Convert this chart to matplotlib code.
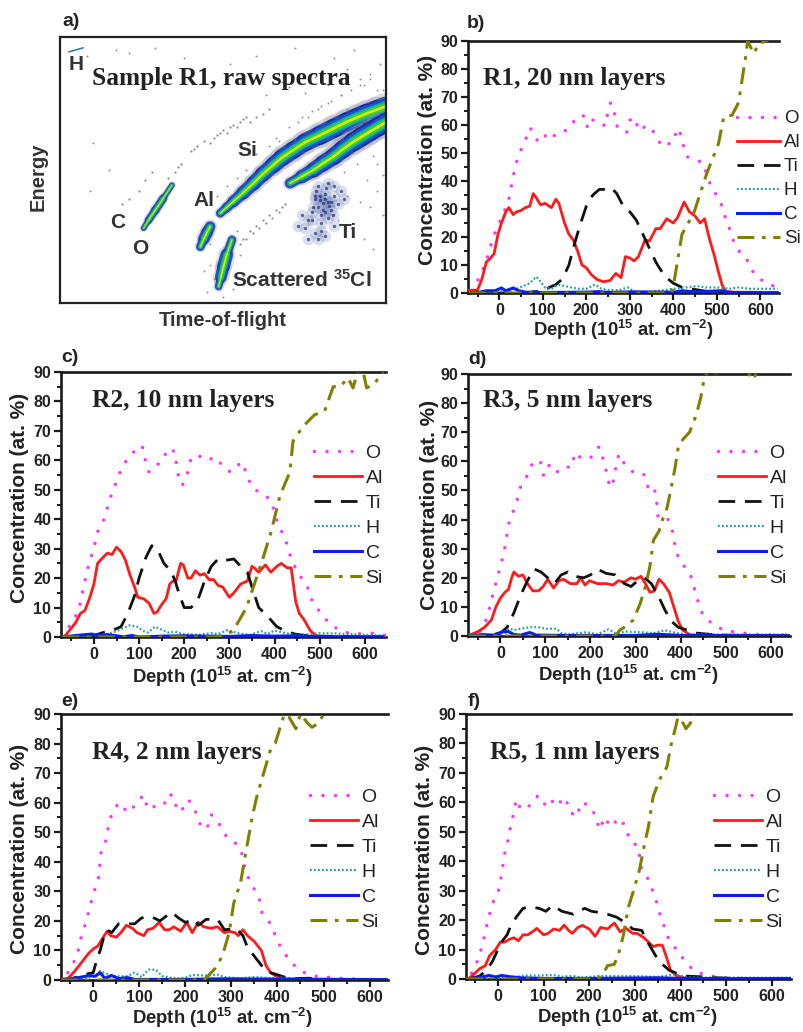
import matplotlib
matplotlib.use("Agg")
import matplotlib.pyplot as plt
from matplotlib.collections import LineCollection
from matplotlib.ticker import MultipleLocator

plt.rcParams['font.family'] = ['Liberation Sans', 'DejaVu Sans']
plt.rcParams['mathtext.fontset'] = 'custom'
plt.rcParams['mathtext.rm'] = 'Liberation Sans:bold'
plt.rcParams['mathtext.bf'] = 'Liberation Sans:bold'
plt.rcParams['mathtext.default'] = 'bf'

W, H = 804, 1032

# ---------- panel b (R1) ----------
B_O_X = [-60,-44,-31,-14,3,21,32,38,48,61,71,87,101,114,132,147,165,178,197,203,213,229,243,249,256,266,272,293,301,312,320,335,347,374,401,408,416,424,431,454,470,477,489,508,516,527,535,550,558,573,585,612,638]
B_O_Y = [0.5,6.5,10.7,20,26,32.7,41.6,46,50.5,55,59,54.6,57,54.6,57,57.4,59.6,63,63.3,58.8,61.8,61.5,59.6,64,68,63.5,58.8,57.4,61.8,62.6,58,59.4,59.6,52.3,54,58.8,57,52.3,48.7,47.5,46.3,42,37.4,33,28.5,24.3,19.6,15.4,13,11.3,7,3.5,2.1]
B_AL_X = [-70,-50,-40,-30,-20,-12,-3,5,15,22,32,40,50,60,70,78,85,95,105,115,120,130,137,150,160,170,180,190,200,212,225,240,255,268,280,290,300,310,320,335,345,360,370,385,400,410,425,437,450,462,472,482,495,503,512,520,540,640]
B_AL_Y = [1,1,5,11,12.5,14,21,25,29,30.5,28,29,29.5,30.5,31,35.5,34,31.5,32,31,30.5,33.5,32,25,21,19,15,10,9,6.5,4.8,4,4.5,7,5.5,13,12.5,11.5,13,19,18.5,23,23,26.5,25,27,32.5,29,27.5,25,26.5,20,13,8,3,0.5,0.3,0.2]
B_TI_X = [-70,60,80,100,115,130,145,160,170,185,200,215,230,245,258,270,285,300,315,330,345,360,380,400,420,440,460,480,500,640]
B_TI_Y = [0,0,0.5,0.5,2,3,5,10,16,24,31,35,37,37,37.5,35.5,31,29,26,21,16,11,6,3.5,2,1.5,1,0.5,0.3,0]
B_H_X = [-70,-20,0,20,40,55,70,85,95,105,120,135,150,165,180,200,220,235,255,275,295,310,350,380,400,430,455,475,500,530,550,575,600,640]
B_H_Y = [0.3,0.3,0.5,1,1.5,2.5,3.5,5.8,4,2,1.5,3,2.5,2,1.5,1.5,3,1.5,1,1,2,0.5,0.5,1,1.5,2,2.5,2,2,1.5,2,1.5,1.5,1.5]
B_C_X = [-70,-45,-30,-10,5,15,32,45,60,100,200,230,250,300,400,420,450,480,510,530,640]
B_C_Y = [0,0.3,0.8,0.8,1.8,0.8,1.8,0.8,0.3,0.2,0.3,0.5,0.2,0.4,0.3,0.8,0.4,0.6,0.8,0.2,0]
B_SI_X = [-70,395,400,420,447,477,504,516,535,550,566,571,585,596,620,640]
B_SI_Y = [0,0,2.4,21,28.5,42.7,53.4,63,63.5,68,84,90,85.5,89,90.5,93]

# ---------- panel c (R2) ----------
C_O_X = [-55,-34,-16,1,9,20,38,48,58,72,89,107,114,122,136,153,163,179,183,188,196,208,214,228,248,271,290,304,327,341,349,367,389,400,408,423,432,441,456,474,485,504,522,548,574,619,644]
C_O_Y = [3.6,8.7,22,31,36,39,48,52,56,60,63,65,60,56,58,60,64,63,58.5,54,51.5,56,60,62,60,61,57,56,59.5,54.5,51,49,47,42.7,38,34,29,25,21,16.6,11.5,8,4.4,2,1,1.3,0.6]
C_AL_X = [-65,-50,-40,-30,-20,-10,0,8,20,30,40,50,60,70,80,90,97,110,122,133,140,150,160,168,175,182,192,198,208,215,225,235,245,255,265,275,285,300,310,325,340,350,355,365,380,392,405,415,428,437,447,455,465,480,495,640]
C_AL_Y = [0.2,3,5,8,9,13,18,25,27,28.5,28,30.5,29,26,21,17,13.5,13,11.5,8,8.5,11,13,18,19,19,25,24.5,20,20,22.5,21,21.5,19.5,19.5,17.5,17,13.5,15,18,19,24,23.5,22,24.5,22,24,25,23.5,23.5,12,8,6,2,0.2,0.2]
C_TI_X = [-70,-20,0,20,45,60,75,90,100,115,128,140,155,170,180,190,200,215,230,245,260,275,290,310,325,340,350,365,385,405,425,445,470,500,640]
C_TI_Y = [0,0.5,0.5,1.5,2.5,3.5,8,14,20,27,31,30,25,22.5,19,14,10,10,12.5,19,24,26.5,26,26.5,24,22,17,10,7,3.5,2,1,0.5,0.3,0]
C_H_X = [-70,0,30,50,65,80,95,110,120,135,150,165,180,195,230,260,275,295,320,345,370,385,400,420,450,500,540,560,640]
C_H_Y = [0,0.5,1,2,3,4,3.5,2,1.5,3.5,2.5,1.5,1.8,1,0.7,1.3,1,2.3,1.3,0.7,2,1,2.2,1.5,0.5,1.3,1.2,1,0.5]
C_C_X = [-70,-40,-20,-5,10,30,50,65,85,100,150,200,300,350,400,450,500,640]
C_C_Y = [0,0.5,0.8,1,0.4,0.8,0.4,0.1,0.5,0,0.3,0.4,0.2,0.5,0.3,0.4,0.1,0]
C_SI_X = [-70,270,285,308,338,375,393,412,434,441,463,489,511,530,545,563,574,585,596,604,622,634,644]
C_SI_Y = [0,0,0.5,2,10,27,36,48,56,66.5,71.5,75.5,76.7,85,85,88,84.6,90.5,90.5,84.6,86,89,91]

# ---------- panel d (R3) ----------
D_O_X = [-72,-46,-30,-16,0,7,13,17,36,44,59,73,89,96,108,124,137,159,165,180,199,219,230,236,243,252,256,263,276,301,319,328,341,347,350,369,380,391,406,422,439,450,469,495,524,561,640]
D_O_Y = [0.3,1.5,6,14.7,24,28,33,38,46,51,55,60,60,55,58.6,56,58,58,63,61,61,65,60,56,51,53.7,57.7,62.5,59,55.4,55.4,51,51.6,46,41,41,37.6,28.4,24.4,21,11.8,7,4.4,2,1.3,0.6,0.3]
D_AL_X = [-70,-50,-35,-20,-10,0,10,18,25,30,40,50,60,72,85,95,105,118,130,140,155,170,178,188,198,215,235,250,262,275,290,300,312,322,332,342,352,362,375,385,395,405,420,440,640]
D_AL_Y = [0.2,1.5,3,5.5,10,13,15,16,20,22,20.5,21,18,15.5,15.5,17,19.5,16.5,19,19.5,18,18,20,17.5,19,18,18,17.5,19,18.5,20,19.5,20.5,18,15,15.5,19.5,18,15,10,5,2,0.5,0,0.2]
D_TI_X = [-70,-20,0,15,30,45,60,75,90,105,120,135,150,165,185,200,215,235,255,275,290,305,320,335,350,365,380,395,415,435,470,500,640]
D_TI_Y = [0,0.3,1,3,8,14,19,23,22,20,18,21,22,20.5,20,21,23,21.5,21,18,17,19,20,18,14,9,5,3,2,1,0.5,0.3,0]
D_H_X = [-70,-10,10,20,30,45,65,85,100,125,135,150,190,215,240,255,280,310,340,365,390,420,640]
D_H_Y = [0,0.3,1,2.5,2,2.5,3,3,2.5,2.5,1,0.5,1.3,0.6,2.3,1,1.5,1.3,1,2,1,0.5,0.5]
D_C_X = [-70,-40,-15,5,18,30,45,65,80,150,300,350,400,640]
D_C_Y = [0,0.5,0.3,1.5,1.5,0.5,0.3,1.2,0.3,0.2,0.2,0.6,0.2,0.1]
D_SI_X = [-70,255,265,280,295,310,322,332,340,352,360,370,378,388,395,405,420,435,445,452,460,480,520,550,560,570,600,640]
D_SI_Y = [0,0,2,3.5,5.5,11,17,24,33,36,40,44,50,58,65,67.5,70,76,82,88,91,90.3,93,90.5,88,90.5,94,94]

# ---------- panel e (R4) ----------
E_O_X = [-55,-35,-29,-15,0,11,17,27,33,40,55,76,96,109,119,129,153,164,176,182,195,207,222,233,247,256,273,287,305,321,331,345,360,367,382,396,407,429,451,476,531,596,640]
E_O_Y = [2.5,8,13,20,29,34,43,47,52,56,60,56.6,60,62.6,57.7,58.6,59,63,62,57,58,61,57,52.4,51,56,53,49,47,44,36.6,32,28,22.5,19.7,15,11,6,3,1.4,0.6,0.2,0.2]
E_AL_X = [-70,-55,-40,-25,-10,0,10,20,30,38,50,60,72,85,95,110,118,130,143,155,165,175,190,203,215,228,240,255,270,285,295,308,315,325,335,350,365,375,385,400,420,640]
E_AL_Y = [0.3,0.5,3,6,9,10.5,11.5,14,16.5,15,14.5,16,18.5,17.5,16,15,17,17.5,19.5,17,17,18,16.5,19.5,16,19.5,18,17.5,18,16,16.5,16,15,17,15,13,10,5,2.5,1,0.3,0.2]
E_TI_X = [-70,-50,-35,-15,0,8,15,22,30,40,55,75,90,105,125,145,170,185,200,220,228,245,270,285,310,325,335,350,365,375,395,415,435,470,500,640]
E_TI_Y = [0,0.3,1,2,2.5,7,10,14,17,16,19,19,19,21,21.5,20,23,21,19.5,20.5,18.5,20.5,20.5,17,17.5,15,11,8,5,3,2,1,0.5,0.6,0.2,0]
E_H_X = [-70,0,15,30,50,75,90,105,120,135,150,180,200,215,245,270,285,320,350,380,420,450,640]
E_H_Y = [0,1,3,2,1.2,1.3,2.5,1,3.5,3.5,1.3,0.5,0.8,1.7,1.5,1.8,1,0.6,1,0.7,0.8,0.3,0.3]
E_C_X = [-70,-45,-25,-10,5,15,25,40,55,75,90,200,270,640]
E_C_Y = [0,0.5,1,1.5,1.3,2.5,0.6,1.5,0.5,0.8,0.2,0.2,0.4,0.1]
E_SI_X = [-70,240,250,265,280,295,305,320,330,345,355,370,385,395,405,415,425,440,450,465,475,490,500,520,640]
E_SI_Y = [0,0,1.5,4,8,16,26,33,42,55,62,70,78,80,85,90,89,85,90,87,85.5,87,90,95,95]

# ---------- panel f (R5) ----------
F_O_X = [-58,-44,-33,-22,-11,0,6,15,22,28,34,40,51,71,86,100,115,126,148,157,172,183,199,212,223,234,247,265,279,289,307,315,329,344,355,373,391,410,432,465,516,636]
F_O_Y = [2,6.4,12,20,26,29,33.6,42.7,47,52,56,61,57.5,59,62,59,61.5,58.6,61.7,57,55,60,59,56,50.7,55,51.6,54.7,52,47,45,37,34,28,22,14,10,6,2.4,1,0.2,0.1]
F_AL_X = [-65,-50,-40,-28,-18,-5,5,15,25,35,45,55,65,80,85,100,110,122,135,145,155,163,175,185,200,213,225,240,255,268,280,295,305,320,340,350,360,368,378,390,410,500,640]
F_AL_Y = [0,2,3.5,4.5,8,10,12.5,12.5,13.5,14,13,15,15,16.5,17.2,15,15.5,17,16.5,18.3,16.5,15.5,17.5,18.2,17,14.5,17.5,17,19,16,17.3,15.5,15.5,14,11,11.5,11.5,8,3,1.2,0.3,0,0]
F_TI_X = [-65,-40,-25,-12,0,10,20,28,40,55,70,90,105,120,140,165,190,205,225,240,260,280,295,315,330,345,360,375,390,410,440,470,500,640]
F_TI_Y = [0,1,3,6,10,13,15,18,21,24,24.5,24,23,25,23,22,24,23,22.5,22,21,19,17,16.5,12,8,5,3,2,1,0.8,0.5,0.3,0]
F_H_X = [-70,0,30,60,90,120,140,165,185,220,260,300,350,385,420,640]
F_H_Y = [0,0.3,0.5,1.2,1.2,1.4,0.8,1,0.5,1,1,1,0.7,1.5,0.5,0.4]
F_C_X = [-65,-40,-20,-5,8,25,50,100,200,350,400,500,640]
F_C_Y = [0,0.5,1.2,0.7,1.2,0.8,0.4,0.2,0.2,0.4,0.2,0.1,0.2]
F_SI_X = [-70,215,228,240,255,265,275,285,297,310,320,330,340,355,370,380,390,397,405,412,422,430,640]
F_SI_Y = [0,0,1,4.5,5,9,15,24,30,37,45,52,62,68,72,80,86,91,87,85,87,91,95]

# ---------- panel a (raw spectrum ridges, axis units 0-100; widths as read, relative) ----------
RIDGE_UP_X = [49,51,53,56,59.2,62,65.3,68,71.4,75,79.6,84,87.8,91,93.9,97,100]
RIDGE_UP_Y = [33.6,35.8,38,41.3,44.9,48.3,51.8,54.6,57.4,60.3,63,65.7,68,69.7,71.2,72.6,74]
RIDGE_UP_W = [0.45,0.5,0.6,0.7,0.75,0.8,0.85,0.9,0.9,0.95,1,1,1,1,1,1]
RIDGE_LO_X = [70.4,74,77.6,80.5,83.7,86.5,89.8,92.3,94.9,97.5,100]
RIDGE_LO_Y = [44.9,47.4,49.9,52.4,54.9,57.6,60.5,62.4,64.3,66.2,68]
RIDGE_LO_W = [0.55,0.7,0.8,0.85,0.9,0.95,1,1,1,1]
RIDGE_O_X = [25.5,27,29.1,31.5,34.2]
RIDGE_O_Y = [28,31,34.8,39.2,44.2]
RIDGE_O_W = [0.3,0.4,0.42,0.3]
RIDGE_AL_X = [42.9,44,45,45.9]
RIDGE_AL_Y = [21,24,26.5,28.6]
RIDGE_AL_W = [0.45,0.6,0.55]
RIDGE_CL_X = [48.5,49.2,50,51,52.6]
RIDGE_CL_Y = [6,9.5,13.5,18,23.6]
RIDGE_CL_W = [0.4,0.62,0.66,0.45]
RIDGE_H_X = [2.6,6.9]
RIDGE_H_Y = [94.4,95.9]
TI_BLOB_X = [80.6,79,82,78,83,81,77,84,80,79.5,82.5,76,85,78.5,81.5,75,86,80,83.5,77.5,74,78,80,81,79,84,87,73,76,82,79,81,84,78,80.5,79.5,82,77,83,81]
TI_BLOB_Y = [37.3,36,38,39,35,41,34,40,33,38.5,36.5,31,37,42,43,28,42,30,33,36,33,26,27,25,24,29,39,29,24,45,44,34,44,40,35,40,32,31,38,39]
ARC_X = [19,21,24,26,28,33,35,36,37,40,41,42,44,46,47,48,49,50,51,52,53,54,55,56,57,58,60,62,64,55,57,59,61,63,65,67,69,56,58,60,62,64,66,68]
ARC_Y = [37,39,42,46,49,47,49,51,52,57,58,59,61,60,62,63,64,65,64,66,67,66,68,69,70,68,70,71,73,22,24,26,28,30,32,34,37,24,27,29,31,33,35,36]
SPECK_X = [8,17,21,29,38,52,60,72,84,90,95,97,92,88,82,75,68,10,15,9,55,63,70,78,86,93,98,99,96,91,94,87,97,92,99,85,89,93,96,99,88,95,90,97,74,77,80,83,86,89,92,95,66,70,73,76,79,82,85,88,60,64,67,48,51,54,57,47,46,54,55,56,50,53,46,45,44]
SPECK_Y = [93,95,94,96,92,90,93,96,92,95,86,80,84,88,82,79,83,60,50,42,84,78,81,85,78,82,90,80,55,52,46,49,42,38,33,31,28,24,20,48,40,36,58,52,70,72,74,76,78,80,82,84,62,66,68,70,73,75,70,73,56,59,61,40,44,47,50,9,14,27,18,10,2,5,22,4,12]

AL_COLOR, O_COLOR, TI_COLOR = '#ff1a1a', '#ff33ff', '#111111'
H_COLOR, C_COLOR, SI_COLOR = '#22a0a0', '#0a20e8', '#808000'

fig = plt.figure(figsize=(W/100, H/100), dpi=100)

def fx(x): return x / W
def fy(y): return 1 - y / H

def make_axes(left, right, top, bottom):
    return fig.add_axes([fx(left), fy(bottom), (right-left)/W, (bottom-top)/H])

# ---- panel a ----
a = make_axes(60.5, 386.5, 37, 302.5)
a.set_xlim(0, 100); a.set_ylim(0, 100)
a.set_xticks([]); a.set_yticks([])
for s in a.spines.values():
    s.set_linewidth(1.6); s.set_color('#222222')

LAYERS = [('#8f93a8',19.0,0.30),('#14248a',14.0,0.75),('#1550d8',11.0,1),('#12a9a0',7.5,1),('#35d030',5.0,1),('#d6e81a',1.9,1)]
for xs, ys, ws in [(RIDGE_UP_X, RIDGE_UP_Y, RIDGE_UP_W),
                   (RIDGE_LO_X, RIDGE_LO_Y, RIDGE_LO_W),
                   (RIDGE_CL_X, RIDGE_CL_Y, RIDGE_CL_W),
                   (RIDGE_AL_X, RIDGE_AL_Y, RIDGE_AL_W),
                   (RIDGE_O_X, RIDGE_O_Y, RIDGE_O_W)]:
    segs = [[(xs[i], ys[i]), (xs[i+1], ys[i+1])] for i in range(len(xs)-1)]
    for c, lw, al in LAYERS:
        a.add_collection(LineCollection(segs, colors=c, linewidths=[lw*w for w in ws], alpha=al, capstyle='round'))
a.plot(RIDGE_H_X, RIDGE_H_Y, color='#2a6fb0', lw=1.1)
a.scatter(TI_BLOB_X, TI_BLOB_Y, s=70, color='#26408f', alpha=0.16, lw=0)
a.scatter(TI_BLOB_X, TI_BLOB_Y, s=6, color='#1c2f80', alpha=0.7, lw=0)
a.scatter(ARC_X, ARC_Y, s=2.5, color='#8a8a99', lw=0)
a.scatter(SPECK_X, SPECK_Y, s=1.8, color='#8a8a99', lw=0)

def pxt(x, y, s, **kw):
    kw.setdefault('ha', 'center'); kw.setdefault('va', 'center')
    return fig.text(fx(x), fy(y), s, **kw)

for x, y, s in [(76,64,'H'),(118,223,'C'),(140,248,'O'),(204,201,'Al'),(247,151,'Si'),(348,232,'Ti')]:
    pxt(x, y, s, fontsize=15, fontweight='bold', color='#333333', zorder=5)
pxt(302, 280, 'Scattered $^{35}$Cl', fontsize=15, fontweight='bold', color='#333333', zorder=5)
pxt(38, 177, 'Energy', fontsize=14.5, fontweight='bold', rotation=90, color='#333333')
pxt(223, 320, 'Time-of-flight', fontsize=14.5, fontweight='bold', color='#333333')
pxt(92, 78, 'Sample R1, raw spectra', ha='left', family='Liberation Serif', fontsize=18.3, fontweight='bold', color='#222222', zorder=5)

# ---- profile panels ----
PANELS = [
 dict(box=(468,779,41,293), lim=(-72,643), letter='b)', lp=(476,23), title='R1, 20 nm layers', tp=(483,78),
      xl=(623,330), yl=(428,160), leg=(737,110), hl=2.3, fs=13.5, ls=0.37,
      series=[(B_O_X,B_O_Y),(B_AL_X,B_AL_Y),(B_TI_X,B_TI_Y),(B_H_X,B_H_Y),(B_C_X,B_C_Y),(B_SI_X,B_SI_Y)]),
 dict(box=(61,386,372,637), lim=(-73,647), letter='c)', lp=(70,358), title='R2, 10 nm layers', tp=(92,401),
      xl=(222,677), yl=(20,498), leg=(314,444), hl=2.45, fs=14, ls=0.38,
      series=[(C_O_X,C_O_Y),(C_AL_X,C_AL_Y),(C_TI_X,C_TI_Y),(C_H_X,C_H_Y),(C_C_X,C_C_Y),(C_SI_X,C_SI_Y)]),
 dict(box=(468,790,374,636), lim=(-72,643), letter='d)', lp=(477,359), title='R3, 5 nm layers', tp=(483,400),
      xl=(628,675), yl=(430,505), leg=(718,444), hl=2.45, fs=14, ls=0.38,
      series=[(D_O_X,D_O_Y),(D_AL_X,D_AL_Y),(D_TI_X,D_TI_Y),(D_H_X,D_H_Y),(D_C_X,D_C_Y),(D_SI_X,D_SI_Y)]),
 dict(box=(61,388,714,980), lim=(-70,640), letter='e)', lp=(70,701), title='R4, 2 nm layers', tp=(92,752),
      xl=(222,1018), yl=(20,849), leg=(310,788), hl=2.45, fs=14, ls=0.38,
      series=[(E_O_X,E_O_Y),(E_AL_X,E_AL_Y),(E_TI_X,E_TI_Y),(E_H_X,E_H_Y),(E_C_X,E_C_Y),(E_SI_X,E_SI_Y)]),
 dict(box=(466,791,714,979), lim=(-70,642), letter='f)', lp=(474,701), title='R5, 1 nm layers', tp=(490,752),
      xl=(627,1017), yl=(425,850), leg=(714,788), hl=2.45, fs=14, ls=0.38,
      series=[(F_O_X,F_O_Y),(F_AL_X,F_AL_Y),(F_TI_X,F_TI_Y),(F_H_X,F_H_Y),(F_C_X,F_C_Y),(F_SI_X,F_SI_Y)]),
]

ELEMENTS = ['O','Al','Ti','H','C','Si']
STYLES = [
 dict(color=O_COLOR, lw=2.5, ls=(0,(0.01,3.6)), dash_capstyle='round'),
 dict(color=AL_COLOR, lw=2.0, ls='-'),
 dict(color=TI_COLOR, lw=2.0, ls=(0,(6,3.5))),
 dict(color=H_COLOR, lw=1.6, ls=(0,(0.8,1.0))),
 dict(color=C_COLOR, lw=2.2, ls='-'),
 dict(color=SI_COLOR, lw=2.2, ls=(0,(5.5,2.5,1.2,2.5))),
]
ORDER = [3,0,5,2,1,4]   # stacking: H, O, Si, Ti, Al, C

pxt(71, 22, 'a)', fontsize=14, fontweight='bold', color='#222222')

for p in PANELS:
    l, r, t, b = p['box']
    ax = make_axes(l, r, t, b)
    ax.set_xlim(*p['lim']); ax.set_ylim(0, 90)
    ax.patch.set_alpha(0)
    handles = {}
    for i in ORDER:
        xs, ys = p['series'][i]
        st = dict(STYLES[i]); ls = st.pop('ls')
        handles[i], = ax.plot(xs, ys, linestyle=ls, label=ELEMENTS[i], zorder=3+i*0.01, **st)
    ax.spines['right'].set_visible(False)
    for s in ('left','bottom','top'):
        ax.spines[s].set_linewidth(1.9); ax.spines[s].set_color('#1a1a1a')
    ax.xaxis.set_major_locator(MultipleLocator(100))
    ax.xaxis.set_minor_locator(MultipleLocator(50))
    ax.yaxis.set_major_locator(MultipleLocator(10))
    ax.yaxis.set_minor_locator(MultipleLocator(5))
    ax.tick_params(axis='both', which='major', length=5, width=1.6, pad=2, color='#1a1a1a')
    ax.tick_params(axis='both', which='minor', length=3, width=1.4, color='#1a1a1a')
    for lab in ax.get_xticklabels() + ax.get_yticklabels():
        lab.set_fontsize(11.5); lab.set_fontweight('bold'); lab.set_color('#222222')
    ax.legend([handles[i] for i in range(6)], ELEMENTS, loc='upper left',
              bbox_to_anchor=(fx(p['leg'][0]), fy(p['leg'][1])), bbox_transform=fig.transFigure,
              frameon=False, prop=dict(family='Liberation Sans', size=p['fs']), borderpad=0, borderaxespad=0,
              handlelength=p['hl'], handletextpad=0.2, labelspacing=p['ls'], labelcolor='#222222')
    pxt(*p['lp'], p['letter'], fontsize=14, fontweight='bold', color='#222222')
    pxt(*p['tp'], p['title'], ha='left', family='Liberation Serif', fontsize=18.3, fontweight='bold', color='#222222', zorder=6)
    pxt(*p['xl'], 'Depth (10$^{15}$ at. cm$^{-2}$)', fontsize=13.3, fontweight='bold', color='#222222')
    pxt(*p['yl'], 'Concentration (at. %)', fontsize=15, fontweight='bold', rotation=90, color='#222222')

fig.savefig('out.png', dpi=100)
